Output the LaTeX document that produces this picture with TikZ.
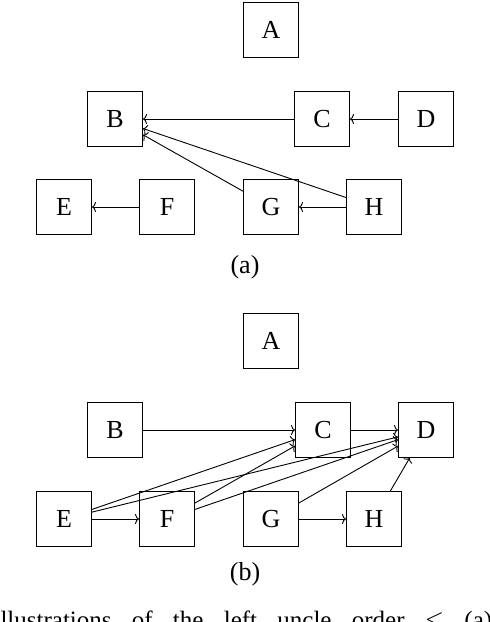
\documentclass[tikz,border=0pt]{standalone}
\usepackage{fontspec}
\setmainfont{Liberation Serif}
\usetikzlibrary{arrows.meta}
\begin{document}
\begin{tikzpicture}[x=1pt,y=-1pt,
  vbox/.style={draw, line width=1pt, minimum size=55pt, inner sep=0pt, font=\fontsize{26}{30}\selectfont},
  lbl/.style={inner sep=0pt, font=\fontsize{26}{30}\selectfont},
  edge/.style={-{To[length=4pt,width=10pt]}, line width=0.9pt}]
\useasboundingbox (0,0) rectangle (490,622);
\clip (0,0) rectangle (490,622);
% (a)
\node[vbox] (a1) at (271,30) {A};
\node[vbox] (b1) at (115,119) {B};
\node[vbox] (c1) at (322,119) {C};
\node[vbox] (d1) at (426,119) {D};
\node[vbox] (e1) at (64,207) {E};
\node[vbox] (f1) at (167,207) {F};
\node[vbox] (g1) at (271,207) {G};
\node[vbox] (h1) at (374,207) {H};
\node[lbl] (la) at (245,267) {(a)};
\draw[edge] (c1) -- (b1);
\draw[edge] (d1) -- (c1);
\draw[edge] (f1) -- (e1);
\draw[edge] (h1) -- (g1);
\draw[edge] (g1) -- (b1);
\draw[edge] (h1) -- (b1);
% (b)
\node[vbox] (a2) at (271,341) {A};
\node[vbox] (b2) at (115,430) {B};
\node[vbox] (c2) at (323,430) {C};
\node[vbox] (d2) at (426,430) {D};
\node[vbox] (e2) at (64,519) {E};
\node[vbox] (f2) at (167,519) {F};
\node[vbox] (g2) at (271,519) {G};
\node[vbox] (h2) at (374,519) {H};
\node[lbl] (lb) at (245,574) {(b)};
\draw[edge] (b2) -- (c2);
\draw[edge] (c2) -- (d2);
\draw[edge] (e2) -- (f2);
\draw[edge] (g2) -- (h2);
\draw[edge] (h2) -- (d2);
\draw[edge] (g2) -- (d2);
\draw[edge] (f2) -- (d2);
\draw[edge] (f2) -- (c2);
\draw[edge] (e2) -- (c2);
\draw[edge] (e2) -- (d2);
% cut-off caption, as in the reference
\node[anchor=base west, inner sep=0pt, font=\fontsize{25}{30}\selectfont] (cap) at (-8,628)
  {\hbox to 500pt{Illustrations\hfill of\hfill the\hfill left\hfill uncle\hfill order\hfill $\leq$\hfill (a)}};
\end{tikzpicture}
\end{document}
